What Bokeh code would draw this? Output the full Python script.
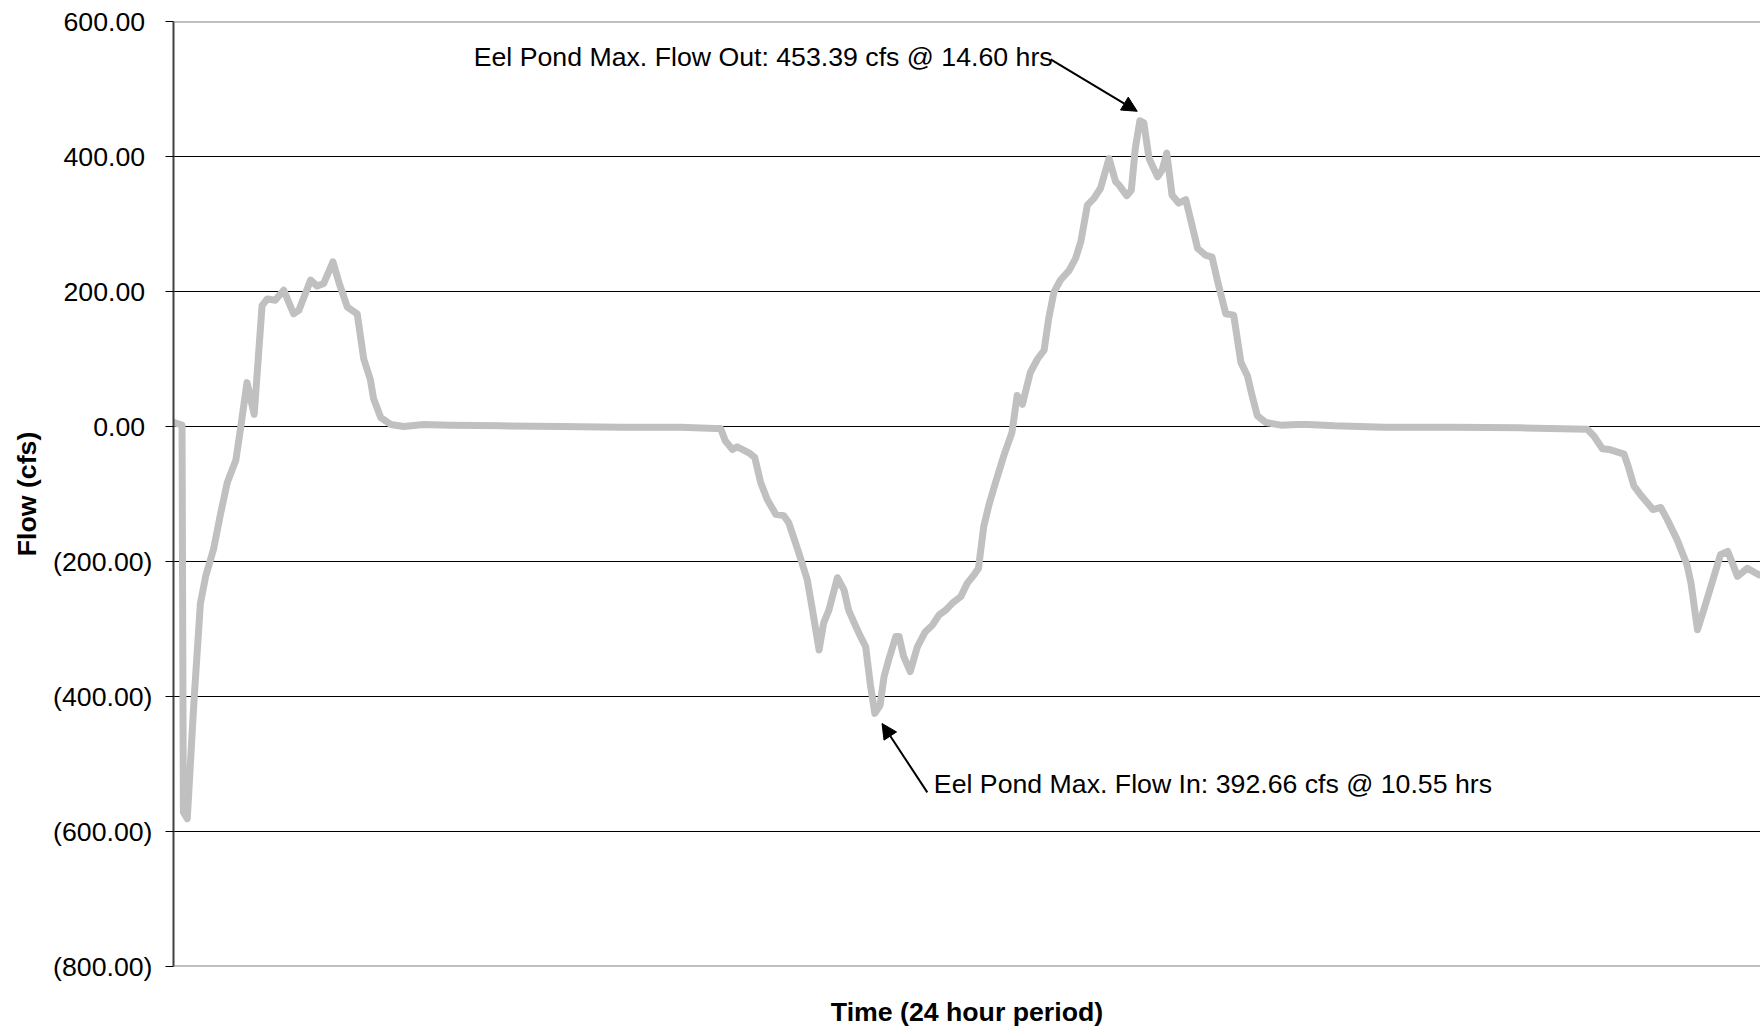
from bokeh.plotting import figure
from bokeh.models import Range1d, FixedTicker, Span, Label, Arrow, NormalHead
from bokeh.embed import file_html
from bokeh.resources import INLINE

# ---------------- data ----------------
time_hr = [0.00, 0.13, 0.15, 0.21, 0.31, 0.41, 0.49, 0.61, 0.72, 0.82, 0.95, 1.02,
           1.12, 1.23, 1.35, 1.43, 1.55, 1.68, 1.83, 1.91, 2.09, 2.19, 2.29, 2.43,
           2.52, 2.65, 2.80, 2.90, 3.00, 3.05, 3.16, 3.31, 3.51, 3.81, 4.22, 4.98,
           5.90, 6.81, 7.73, 8.26, 8.34, 8.41, 8.52, 8.59, 8.77, 8.86, 8.95, 9.05,
           9.18, 9.30, 9.38, 9.53, 9.66, 9.74, 9.84, 9.91, 9.99, 10.12, 10.22, 10.29,
           10.40, 10.47, 10.55, 10.62, 10.69, 10.77, 10.83, 10.90, 11.01, 11.06, 11.13,
           11.23, 11.34, 11.46, 11.57, 11.67, 11.77, 11.87, 12.00, 12.10, 12.20, 12.27,
           12.35, 12.43, 12.53, 12.66, 12.78, 12.86, 12.94, 13.06, 13.17, 13.27, 13.34,
           13.42, 13.52, 13.65, 13.75, 13.83, 13.93, 14.03, 14.13, 14.26, 14.36, 14.41,
           14.53, 14.60, 14.66, 14.73, 14.79, 14.87, 15.00, 15.07, 15.14, 15.22, 15.32,
           15.43, 15.50, 15.61, 15.73, 15.83, 15.91, 16.04, 16.16, 16.27, 16.37, 16.44,
           16.52, 16.65, 16.88, 17.13, 17.29, 17.69, 18.45, 19.47, 20.53, 21.55, 21.65,
           21.78, 21.88, 22.11, 22.18, 22.26, 22.36, 22.49, 22.55, 22.67, 22.77, 22.92,
           23.07, 23.13, 23.23, 23.34, 23.45, 23.58, 23.69, 23.84, 23.99, 24.17, 24.30]
flow_cfs = [6, 2, -571, -581, -410, -262, -222, -182, -128, -83, -50, -4,
            65, 18, 179, 189, 187, 202, 167, 172, 217, 208, 212, 244,
            214, 177, 167, 100, 70, 41, 13, 3, 0, 3, 2, 1,
            0, -1, -1, -3, -3, -21, -34, -30, -39, -46, -83, -108,
            -130, -132, -143, -187, -227, -272, -331, -291, -272, -224, -242, -272,
            -296, -311, -326, -381, -425, -413, -371, -346, -311, -311, -341,
            -363, -326, -304, -294, -279, -272, -262, -252, -232, -220, -210,
            -148, -116, -83, -42, -9, 46, 33, 80, 100, 113, 160,
            199, 217, 231, 249, 274, 328, 338, 353, 397, 363, 358,
            342, 350, 412, 453, 450, 397, 370, 380, 405, 343, 331,
            336, 308, 264, 254, 251, 217, 167, 165, 95, 75, 46,
            16, 6, 2, 3, 3, 1, -1, -1, -2, -4, -14,
            -33, -34, -41, -61, -88, -101, -116, -123, -120, -138, -168,
            -205, -232, -301, -267, -232, -190, -185, -222, -210, -220, -215]

ytick_values = [-800, -600, -400, -200, 0, 200, 400, 600]
ytick_labels = ["(800.00)", "(600.00)", "(400.00)", "(200.00)", "0.00", "200.00", "400.00", "600.00"]

x_title = "Time (24 hour period)"
y_title = "Flow (cfs)"

ann_out_text = "Eel Pond Max. Flow Out: 453.39 cfs @ 14.60 hrs"
ann_in_text = "Eel Pond Max. Flow In: 392.66 cfs @ 10.55 hrs"

FONT = "Liberation Sans"
FS = "26.7px"

p = figure(width=1760, height=1029, output_backend="svg", toolbar_location=None,
           x_range=Range1d(0, 24.19), y_range=Range1d(-800, 600),
           min_border_left=173, min_border_right=0, min_border_top=21, min_border_bottom=40)
p.background_fill_color = "white"
p.border_fill_color = "white"
p.outline_line_color = None

p.line(time_hr, flow_cfs, line_color="#C0C0C0", line_width=7, line_join="round", line_cap="round")

# y axis
p.yaxis.ticker = FixedTicker(ticks=ytick_values)
p.yaxis.major_label_overrides = {v: (l if l.startswith("(") else l + "\u2008")
                                 for v, l in zip(ytick_values, ytick_labels)}
p.yaxis.major_label_text_font = FONT
p.yaxis.major_label_text_font_size = FS
p.yaxis.major_label_text_color = "black"
p.yaxis.major_label_standoff = 13
p.yaxis.major_tick_out = 8
p.yaxis.major_tick_in = 0
p.yaxis.major_tick_line_color = "black"
p.yaxis.major_tick_line_width = 1
p.yaxis.minor_tick_line_color = None
p.yaxis.axis_line_color = "#404040"
p.yaxis.axis_line_width = 2
p.yaxis.axis_label = y_title
p.yaxis.axis_label_text_font = FONT
p.yaxis.axis_label_text_font_size = FS
p.yaxis.axis_label_text_font_style = "bold"
p.yaxis.axis_label_text_color = "black"
p.yaxis.axis_label_standoff = 8

# x axis: only a title
p.xaxis.ticker = FixedTicker(ticks=[])
p.xaxis.major_tick_line_color = None
p.xaxis.minor_tick_line_color = None
p.xaxis.axis_line_color = None
p.xaxis.major_label_text_font_size = "0px"
p.xaxis.axis_label = x_title
p.xaxis.axis_label_text_font = FONT
p.xaxis.axis_label_text_font_size = FS
p.xaxis.axis_label_text_font_style = "bold"
p.xaxis.axis_label_text_color = "black"
p.xaxis.axis_label_standoff = 30

# grid
p.xgrid.grid_line_color = None
p.ygrid.ticker = FixedTicker(ticks=ytick_values[1:-1])
p.ygrid.grid_line_color = "black"
p.ygrid.grid_line_width = 1

# plot-area border (top & bottom only visible)
p.add_layout(Span(location=ytick_values[-1], dimension="width", line_color="#808080", line_width=2))
p.add_layout(Span(location=ytick_values[0], dimension="width", line_color="#808080", line_width=2))

# annotations
p.add_layout(Label(x=13.40, y=547, text=ann_out_text, text_align="right", text_baseline="middle",
                   text_font=FONT, text_font_size=FS, text_color="black"))
p.add_layout(Arrow(x_start=13.37, y_start=544, x_end=14.69, y_end=467, line_color="black", line_width=2,
                   end=NormalHead(size=15, fill_color="black", line_color="black")))
p.add_layout(Label(x=11.59, y=-529, text=ann_in_text, text_align="left", text_baseline="middle",
                   text_font=FONT, text_font_size=FS, text_color="black"))
p.add_layout(Arrow(x_start=11.49, y_start=-542, x_end=10.80, y_end=-440, line_color="black", line_width=2,
                   end=NormalHead(size=15, fill_color="black", line_color="black")))

open("out.html", "w").write(file_html(p, INLINE))
